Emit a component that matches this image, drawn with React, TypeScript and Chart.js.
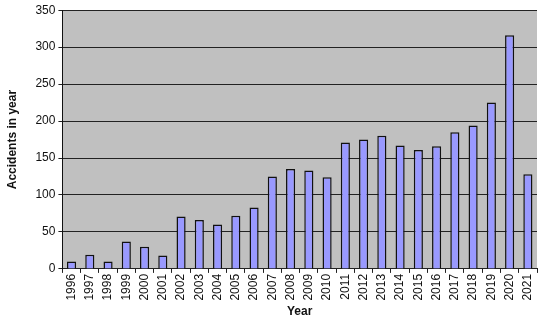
import React, { useEffect, useRef } from "react";
import { Chart, registerables } from "chart.js";

Chart.register(...registerables);

const years = ["1996","1997","1998","1999","2000","2001","2002","2003","2004","2005","2006","2007","2008","2009","2010","2011","2012","2013","2014","2015","2016","2017","2018","2019","2020","2021"];
const accidents = [10,19,10,37,30,18,71,66,60,72,83,125,135,133,124,171,175,180,167,161,166,185,194,225,316,128];
const yTicks = [0,50,100,150,200,250,300,350];

const plotBg = {
  id: "plotBg",
  beforeDraw(chart: any) {
    const { ctx, chartArea } = chart;
    ctx.save();
    ctx.fillStyle = "#c0c0c0";
    ctx.fillRect(chartArea.left, chartArea.top, chartArea.right - chartArea.left, chartArea.bottom - chartArea.top);
    ctx.restore();
  },
};

export default function App() {
  const ref = useRef<HTMLCanvasElement>(null);
  useEffect(() => {
    const font = { family: "'Liberation Sans', Arial, sans-serif", size: 12 };
    const chart = new Chart(ref.current!, {
      type: "bar",
      data: {
        labels: years,
        datasets: [{
          data: accidents,
          backgroundColor: "#9999ff",
          borderColor: "#111111",
          borderWidth: 1.5,
          barPercentage: 0.5,
          categoryPercentage: 1,
        }],
      },
      options: {
        animation: false,
        responsive: false,
        maintainAspectRatio: false,
        layout: { padding: { top: 2, right: 13, left: 5, bottom: 4 } },
        plugins: { legend: { display: false }, tooltip: { enabled: false } },
        scales: {
          x: {
            grid: { display: true, drawOnChartArea: false, offset: true, color: "#222", tickLength: 4 },
            border: { color: "#222", width: 1 },
            ticks: { color: "#111", font, maxRotation: 90, minRotation: 90, padding: 1 },
            title: { display: true, text: "Year", color: "#111", font: { ...font, weight: "bold" }, padding: { top: 3, bottom: 0 } },
          },
          y: {
            min: 0,
            max: 350,
            afterBuildTicks: (axis: any) => { axis.ticks = yTicks.map((v) => ({ value: v })); },
            grid: { color: "#222", lineWidth: 1, tickLength: 4, drawTicks: true },
            border: { color: "#111", width: 1 },
            ticks: { color: "#111", font, padding: 3 },
            title: { display: true, text: "Accidents in year", color: "#111", font: { ...font, weight: "bold" }, padding: { top: 0, bottom: 13 } },
          },
        },
      },
      plugins: [plotBg],
    });
    return () => chart.destroy();
  }, []);
  return (
    <div style={{ position: "fixed", left: 0, top: 0, width: 550, height: 323, background: "#fff" }}>
      <canvas ref={ref} width={550} height={323} style={{ width: 550, height: 323 }} />
    </div>
  );
}
